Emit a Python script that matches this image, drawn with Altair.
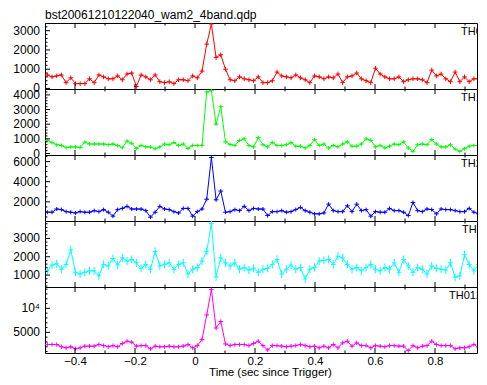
import altair as alt
import pandas as pd

FONT = "Liberation Sans"
TITLE = "bst20061210122040_wam2_4band.qdp"
XTITLE = "Time (sec since Trigger)"

BIN = 1 / 64
T_START = -0.4922
N = 94
times = [round(T_START + i * BIN, 5) for i in range(N)]

th0 = [700, 600, 650, 700, 300, 550, 250, 250, 250, 500,
       300, 700, 600, 500, 500, 650, 450, 750, 800, 100,
       700, 600, 450, 700, 350, 300, 350, 250, 450, 450,
       400, 650, 550, 900, 2300, 3350, 1600, 1750, 1000, 450,
       400,
       600, 500, 450, 400, 600, 300, 300, 400, 850, 650,
       600, 550, 700, 550, 450, 300, 650, 600, 500, 600,
       550, 750, 300, 600, 650, 800, 500, 400, 300, 1050,
       750, 600, 500, 500, 600, 350, 450, 500, 500, 450,
       300, 950, 650, 750, 500, 350, 850, 350, 600, 350,
       500, 500, 450]

th1 = [900, 750, 600, 550, 400, 450, 450, 420, 780, 650,
       650, 650, 650, 600, 650, 550, 400, 850, 700, 350,
       550, 450, 450, 320, 450, 650, 600, 750, 550, 650,
       350, 550, 550, 550, 4200, 4300, 2000, 3200, 800, 620,
       550,
       890, 1000, 550, 450, 1100, 600, 450, 750, 550, 550,
       600, 750, 500, 500, 380, 550, 950, 550, 650, 380,
       550, 450, 650, 800, 500, 500, 650, 1000, 900, 450,
       550, 380, 500, 650, 600, 800, 380, 150, 600, 650,
       600, 950, 650, 450, 450, 600, 300, 150, 330, 500,
       550, 550, 500]

th2 = [970, 970, 1290, 1230, 1030, 970, 900, 1030, 970, 970,
       1130, 1030, 1230, 970, 580, 1230, 1350, 1550, 1290, 1290,
       1290, 1130, 480, 970, 1550, 1290, 1230, 1030, 900, 1350,
       1350, 580, 1030, 1290, 2260, 6400, 2200, 3070, 970, 1030,
       1230,
       1130, 1550, 1130, 1350, 1290, 1290, 640, 1030, 1030, 1130,
       970, 1030, 1230, 1450, 1130, 970, 810, 810, 900, 1775,
       1130, 1030, 1030, 1610, 1030, 1775, 1130, 1230, 580, 1030,
       970, 970, 1350, 1130, 1130, 970, 640, 1940, 1130, 1030,
       1290, 1230, 810, 1290, 1230, 1230, 1130, 1030, 1030, 1350,
       970, 810, 1000]

th3 = [1230, 1550, 1620, 1320, 1580, 2380, 1150, 1055, 1150, 1230,
       1230, 960, 1580, 1500, 1900, 1550, 1940, 1760, 1850, 1670,
       1370, 1580, 1320, 2290, 1500, 1580, 1670, 1320, 1580, 1670,
       1055, 1320, 1410, 1760, 2290, 3800, 900, 1940, 1670, 1500,
       1670,
       1320, 1410, 1270, 1370, 1150, 1320, 1370, 1580, 1850, 1055,
       1320, 1550, 1320, 1410, 790, 1320, 1410, 1760, 1800, 1850,
       1580, 2030, 1940, 1580, 1320, 1410, 1230, 1410, 1580, 1320,
       1230, 1410, 1320, 1670, 1150, 1850, 1500, 1150, 1410, 1320,
       1055, 1500, 1370, 1320, 1270, 1670, 877, 960, 2115, 1580,
       1230, 1580, 1400]

th012 = [2470, 2470, 2470, 2000, 1780, 2000, 1570, 1780, 2125, 2125,
         2125, 2470, 2240, 2000, 2240, 2000, 2680, 3150, 2950, 2125,
         2240, 2240, 1570, 2125, 2000, 2000, 2125, 2000, 2000, 2125,
         2470, 1780, 2240, 3500, 8630, 13900, 5900, 7260, 2600, 2240,
         2470,
         2470, 2470, 2240, 2680, 3150, 2240, 1340, 2240, 2240, 2125,
         2000, 2125, 2240, 2470, 2240, 2000, 2125, 1780, 2125, 1780,
         2470, 1780, 2810, 3150, 2125, 2810, 2240, 2240, 1780, 2240,
         2125, 2000, 2240, 2240, 2125, 2125, 1200, 2240, 1780, 2125,
         2240, 3150, 2470, 2240, 2240, 2240, 1570, 1780, 1780, 2000,
         2470, 1780, 2240]

errors = [120, 130, 200, 220, 450]
names = ["TH0", "TH1", "TH2", "TH3", "TH012"]
colors = ["#ff0000", "#00ff00", "#0000ff", "#00ffff", "#ff00ff"]
series = [th0, th1, th2, th3, th012]
ydomains = [[-30, 3400], [-100, 4400], [100, 6650], [350, 3950], [700, 14450]]
ymajor = [[0, 1000, 2000, 3000], [0, 1000, 2000, 3000, 4000], [2000, 4000, 6000],
          [1000, 2000, 3000], [5000, 10000]]
ylabels = [["0", "1000", "2000", "3000"], ["0", "1000", "2000", "3000", "4000"],
           ["2000", "4000", "6000"], ["1000", "2000", "3000"], ["5000", "10⁴"]]
yminor_step = [200, 200, 500, 200, 1000]

XDOM = [-0.5, 0.94]
XMAJ = [-0.4, -0.2, 0.0, 0.2, 0.4, 0.6, 0.8]
XMIN = [-0.5, -0.3, -0.1, 0.1, 0.3, 0.5, 0.7, 0.9]

for s in series:
    assert len(s) == N, len(s)

W = 432
H = 66
label_x = [416, 416, 416, 417, 404]


def make_panel(k, last=False, first=False):
    vals = series[k]
    err = errors[k]
    color = colors[k]
    df = pd.DataFrame({"t": times, "v": vals})
    df["lo"] = df["v"] - err
    df["hi"] = df["v"] + err
    df["ta"] = df["t"] - BIN / 2
    df["tb"] = df["t"] + BIN / 2
    xs = alt.Scale(domain=XDOM, nice=False, zero=False)
    ys = alt.Scale(domain=ydomains[k], nice=False, zero=False)
    if last:
        xaxis = alt.Axis(values=XMAJ, format=".1~f", title=XTITLE, ticks=False, tickSize=0,
                         domain=False, grid=False, labelPadding=2, titlePadding=0,
                         labelFontSize=11.5, titleFontSize=11.5,
                         labelFlush=False, labelOverlap=False, titleX=225)
    else:
        xaxis = None

    base = alt.Chart(df)
    line = base.mark_line(color=color, strokeWidth=1, clip=True).encode(
        x=alt.X("t:Q", scale=xs, axis=xaxis),
        y=alt.Y("v:Q", scale=ys, axis=None),
    )
    ebar = base.mark_rule(color=color, strokeWidth=1, clip=True).encode(
        x=alt.X("t:Q", scale=xs),
        y=alt.Y("lo:Q", scale=ys),
        y2="hi:Q",
    )
    hbar = base.mark_rule(color=color, strokeWidth=1, clip=True).encode(
        x=alt.X("ta:Q", scale=xs),
        x2="tb:Q",
        y=alt.Y("v:Q", scale=ys),
    )

    lo, hi = ydomains[k]
    step = yminor_step[k]
    ymin_vals = [v for v in range(0, int(hi) + 1, step) if v >= lo and v not in ymajor[k]]

    xt_maj = alt.Chart(pd.DataFrame({"x": XMAJ}))
    xt_min = alt.Chart(pd.DataFrame({"x": XMIN}))
    yt_maj = alt.Chart(pd.DataFrame({"y": ymajor[k]}))
    yt_min = alt.Chart(pd.DataFrame({"y": ymin_vals}))

    def xr(c, a, b):
        return c.mark_rule(color="black", strokeWidth=1, clip=True).encode(
            x=alt.X("x:Q", scale=xs), y=alt.value(a), y2=alt.value(b))

    def yr(c, length):
        return c.mark_rule(color="black", strokeWidth=1, clip=True).encode(
            y=alt.Y("y:Q", scale=ys), x=alt.value(0), x2=alt.value(length))

    ticks = [xr(xt_maj, 0, 5), xr(xt_maj, H, H - 5), xr(xt_min, 0, 2.5), xr(xt_min, H, H - 2.5),
             yr(yt_maj, 5), yr(yt_min, 2.5)]

    ylab = alt.Chart(pd.DataFrame({"y": ymajor[k], "lab": ylabels[k]})).mark_text(
        align="right", baseline="middle", fontSize=12, font=FONT, color="black"
    ).encode(y=alt.Y("y:Q", scale=ys), x=alt.value(-5), text="lab:N")

    text = alt.Chart(pd.DataFrame({"lab": [names[k]]})).mark_text(
        align="left", baseline="top", fontSize=11, font=FONT, color="black", clip=True
    ).encode(text="lab:N", x=alt.value(label_x[k]), y=alt.value(3))

    props = dict(width=W, height=H)
    if first:
        props["title"] = alt.Title(TITLE, anchor="start", frame="group", fontSize=12,
                                   font=FONT, fontWeight="normal", offset=1, color="black")
    return alt.layer(line, ebar, hbar, *ticks, ylab, text).properties(**props)


panels = [make_panel(k, last=(k == 4), first=(k == 0)) for k in range(5)]

chart = alt.vconcat(*panels, spacing=0, bounds="flush").properties(
    padding={"left": 4, "top": 0, "right": 0, "bottom": 0}
).configure_view(stroke="black", strokeWidth=1).configure_axis(
    labelFont=FONT, labelFontSize=12, titleFont=FONT, titleFontSize=12,
    labelColor="black", titleColor="black", titleFontWeight="normal"
)

chart.save("out.html", embed_options={"renderer": "svg", "actions": False})
